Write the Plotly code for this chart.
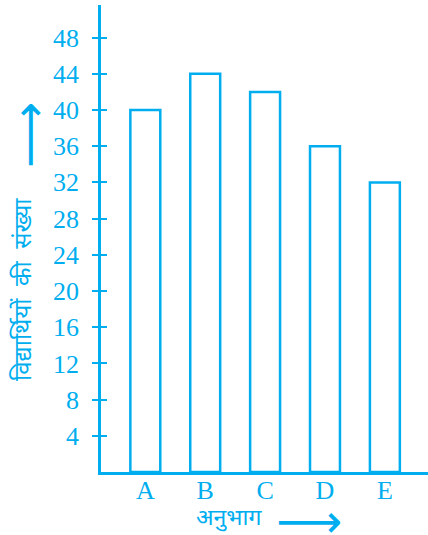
import plotly.graph_objects as go

categories = ["A", "B", "C", "D", "E"]
students = [40, 44, 42, 36, 32]
y_ticks = [4, 8, 12, 16, 20, 24, 28, 32, 36, 40, 44, 48]
y_title = "विद्यार्थियों  की  संख्या"
x_title = "अनुभाग"

CYAN = "#00AEEF"
SERIF = "Liberation Serif, Times New Roman, serif"
DEVA = "Noto Sans Devanagari, Lohit Devanagari, Noto Sans, sans-serif"

xpos = list(range(len(categories)))

fig = go.Figure()
fig.add_trace(go.Bar(
    x=xpos, y=students, width=0.5,
    marker=dict(color="white", line=dict(color=CYAN, width=2.5)),
    hoverinfo="skip", showlegend=False,
))
fig.add_trace(go.Scatter(x=[xpos[0]], y=[students[0]], yaxis="y2", mode="markers",
                         marker=dict(opacity=0), showlegend=False, hoverinfo="skip"))

yr = [0, 51.6]
fig.update_layout(
    width=428, height=535,
    margin=dict(l=101, r=0, t=5, b=62.5),
    plot_bgcolor="white", paper_bgcolor="white",
    xaxis=dict(
        range=[-0.74, 4.72], tickvals=xpos, ticktext=categories, automargin=False,
        showgrid=False, zeroline=False, showline=True, linecolor=CYAN, linewidth=2.5,
        ticks="", tickfont=dict(family=SERIF, size=26, color=CYAN),
        ticklabelstandoff=-7,
    ),
    yaxis=dict(
        range=yr, tickvals=y_ticks, showgrid=False, zeroline=False, automargin=False,
        showline=True, linecolor=CYAN, linewidth=2.5,
        ticks="outside", ticklen=6, tickwidth=2, tickcolor=CYAN,
        ticklabelstandoff=8,
        tickfont=dict(family=SERIF, size=26, color=CYAN),
    ),
    yaxis2=dict(
        range=yr, tickvals=y_ticks, overlaying="y", side="left", anchor="x",
        showgrid=False, zeroline=False, showline=False, automargin=False,
        ticks="inside", ticklen=6, tickwidth=2, tickcolor=CYAN,
        showticklabels=False,
    ),
    annotations=[
        dict(text=y_title, textangle=-90, xref="paper", yref="paper",
             x=-0.232, y=0.39, xanchor="center", yanchor="middle", showarrow=False,
             font=dict(family=DEVA, size=24, color=CYAN)),
        dict(text="⟶", textangle=-90, xref="paper", yref="paper",
             x=-0.22, y=0.722, xanchor="center", yanchor="middle", showarrow=False,
             height=30, font=dict(family="DejaVu Sans", size=46, color=CYAN)),
        dict(text=x_title, xref="paper", yref="paper",
             x=0.39, y=-0.101, xanchor="center", yanchor="middle", showarrow=False,
             font=dict(family=DEVA, size=23, color=CYAN)),
        dict(text="⟶", xref="paper", yref="paper",
             x=0.637, y=-0.104, xanchor="center", yanchor="middle", showarrow=False,
             height=30, font=dict(family="DejaVu Sans", size=46, color=CYAN)),
    ],
)

fig.write_html("out.html", config={"displayModeBar": False},
               post_script="document.body.style.margin='0';")
